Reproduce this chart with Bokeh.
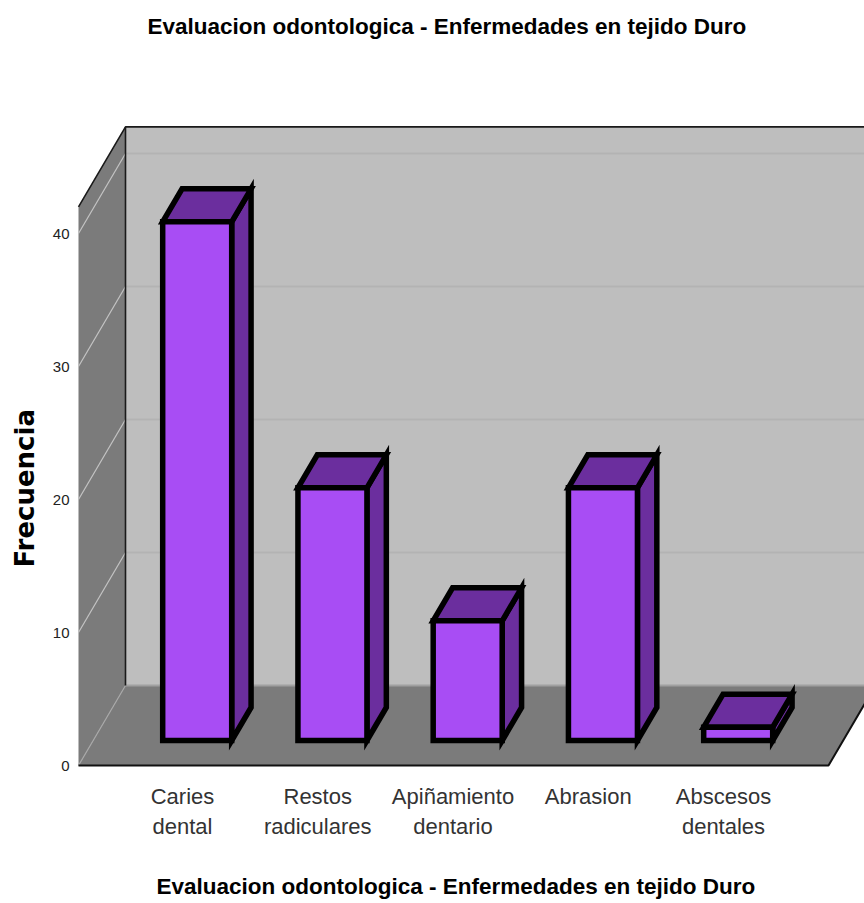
from bokeh.plotting import figure
from bokeh.embed import file_html
from bokeh.resources import INLINE
from bokeh.models import Range1d, FixedTicker, Title

# Frequencies per condition
categories = ["Caries\ndental", "Restos\nradiculares", "Apiñamiento\ndentario", "Abrasion", "Abscesos\ndentales"]
frequencies = [39, 19, 9, 19, 1]
y_ticks = [0, 10, 20, 30, 40]
chart_title = "Evaluacion odontologica  - Enfermedades en tejido Duro"
y_title = "Frecuencia"

# Scale of the data axes, in pixels per unit
PX_X = 135.25
PX_Y = 13.3
# Oblique projection: how far one full unit of depth moves a point
DEPTH_X = 47 / PX_X
DEPTH_Y = 80 / PX_Y
# Extents of the box that holds the chart
BOX_LEFT = -104 / PX_X
BOX_RIGHT = 646 / PX_X
BOX_TOP = 42.0
# Bar footprint
HALF_W = 34.5 / PX_X
BAR_NEAR = 0.3125
BAR_FAR = 0.725

FONT = "Liberation Sans"
FRAME_LEFT = 76


def proj(x, y, d):
    return x + d * DEPTH_X, y + d * DEPTH_Y


def poly(points):
    pts = [proj(*pt) for pt in points]
    return [pt[0] for pt in pts], [pt[1] for pt in pts]


p = figure(
    width=864, height=903,
    frame_width=788, frame_height=727,
    min_border_left=FRAME_LEFT, min_border_right=0, min_border_top=40, min_border_bottom=136,
    x_range=Range1d(-106 / PX_X, 682 / PX_X),
    y_range=Range1d(-2 / PX_Y, 725 / PX_Y),
    output_backend="svg", toolbar_location=None,
    background_fill_color="white", border_fill_color="white", outline_line_color=None,
)
p.grid.visible = False

# Box: back wall, left wall and floor
bx, by = poly([(BOX_LEFT, 0, 1), (BOX_RIGHT, 0, 1), (BOX_RIGHT, BOX_TOP, 1), (BOX_LEFT, BOX_TOP, 1)])
p.patch(bx, by, fill_color="#bebebe", line_color=None)
lx, ly = poly([(BOX_LEFT, 0, 0), (BOX_LEFT, 0, 1), (BOX_LEFT, BOX_TOP, 1), (BOX_LEFT, BOX_TOP, 0)])
p.patch(lx, ly, fill_color="#7b7b7b", line_color=None)
fx, fy = poly([(BOX_LEFT, 0, 0), (BOX_RIGHT, 0, 0), (BOX_RIGHT, 0, 1), (BOX_LEFT, 0, 1)])
p.patch(fx, fy, fill_color="#7b7b7b", line_color=None)

# Grid lines across the back wall and the left wall
for t in y_ticks:
    gx, gy = poly([(BOX_LEFT, t, 1), (BOX_RIGHT, t, 1)])
    p.line(gx, gy, line_color="#b3b3b3" if t > 0 else "#a0a0a0", line_width=2)
    wx, wy = poly([(BOX_LEFT, t, 0), (BOX_LEFT, t, 1)])
    p.line(wx, wy, line_color="#c4c4c4" if t > 0 else "#a8a8a8", line_width=1.2)

# Box edges
ex, ey = poly([(BOX_LEFT, BOX_TOP, 0), (BOX_LEFT, BOX_TOP, 1), (BOX_RIGHT, BOX_TOP, 1)])
p.line(ex, ey, line_color="#1a1a1a", line_width=1.6)
ex, ey = poly([(BOX_LEFT, 0, 1), (BOX_LEFT, BOX_TOP, 1)])
p.line(ex, ey, line_color="#1a1a1a", line_width=1.6)
ex, ey = [BOX_LEFT, BOX_RIGHT, BOX_RIGHT + DEPTH_X], [0, 0, DEPTH_Y]
p.line(ex, ey, line_color="#111111", line_width=2)

# Bars: side and top faces first, front face last
for i, v in enumerate(frequencies):
    x0, x1 = i - HALF_W, i + HALF_W
    sx, sy = poly([(x1, 0, BAR_NEAR), (x1, 0, BAR_FAR), (x1, v, BAR_FAR), (x1, v, BAR_NEAR)])
    p.patch(sx, sy, fill_color="#6b2e9e", line_color="black", line_width=5.5, line_join="miter")
    tx, ty = poly([(x0, v, BAR_NEAR), (x1, v, BAR_NEAR), (x1, v, BAR_FAR), (x0, v, BAR_FAR)])
    p.patch(tx, ty, fill_color="#6b2e9e", line_color="black", line_width=5.5, line_join="miter")
    cx, cy = poly([(x0, 0, BAR_NEAR), (x1, 0, BAR_NEAR), (x1, v, BAR_NEAR), (x0, v, BAR_NEAR)])
    p.patch(cx, cy, fill_color="#a84df4", line_color="black", line_width=5.5, line_join="miter")

# Axes
p.yaxis.ticker = FixedTicker(ticks=y_ticks)
p.yaxis.axis_line_color = None
p.yaxis.major_tick_line_color = None
p.yaxis.minor_tick_line_color = None
p.yaxis.major_tick_out = 0
p.yaxis.major_label_text_font = FONT
p.yaxis.major_label_text_font_size = "15px"
p.yaxis.major_label_text_color = "#222222"
p.yaxis.major_label_standoff = 7

p.xaxis.ticker = FixedTicker(ticks=list(range(len(categories))))
p.xaxis.major_label_overrides = {i: c for i, c in enumerate(categories)}
p.xaxis.axis_line_color = None
p.xaxis.major_tick_line_color = None
p.xaxis.minor_tick_line_color = None
p.xaxis.major_tick_out = 0
p.xaxis.major_label_text_font = FONT
p.xaxis.major_label_text_font_size = "22px"
p.xaxis.major_label_text_color = "#333333"
p.xaxis.major_label_standoff = 16

# Titles, one on each side that carries text
p.title = Title(text=chart_title, align="left", offset=71, standoff=4,
                text_font=FONT, text_font_style="bold", text_font_size="22.5px", text_color="black")
p.add_layout(Title(text=chart_title, align="left", offset=80, standoff=60,
                   text_font=FONT, text_font_style="bold", text_font_size="22.5px", text_color="black"), "below")
p.add_layout(Title(text=y_title, align="left", offset=200, standoff=15, vertical_align="top",
                   text_font="DejaVu Sans", text_font_style="bold", text_font_size="26px", text_color="black"), "left")

open("out.html", "w").write(file_html(p, INLINE))
